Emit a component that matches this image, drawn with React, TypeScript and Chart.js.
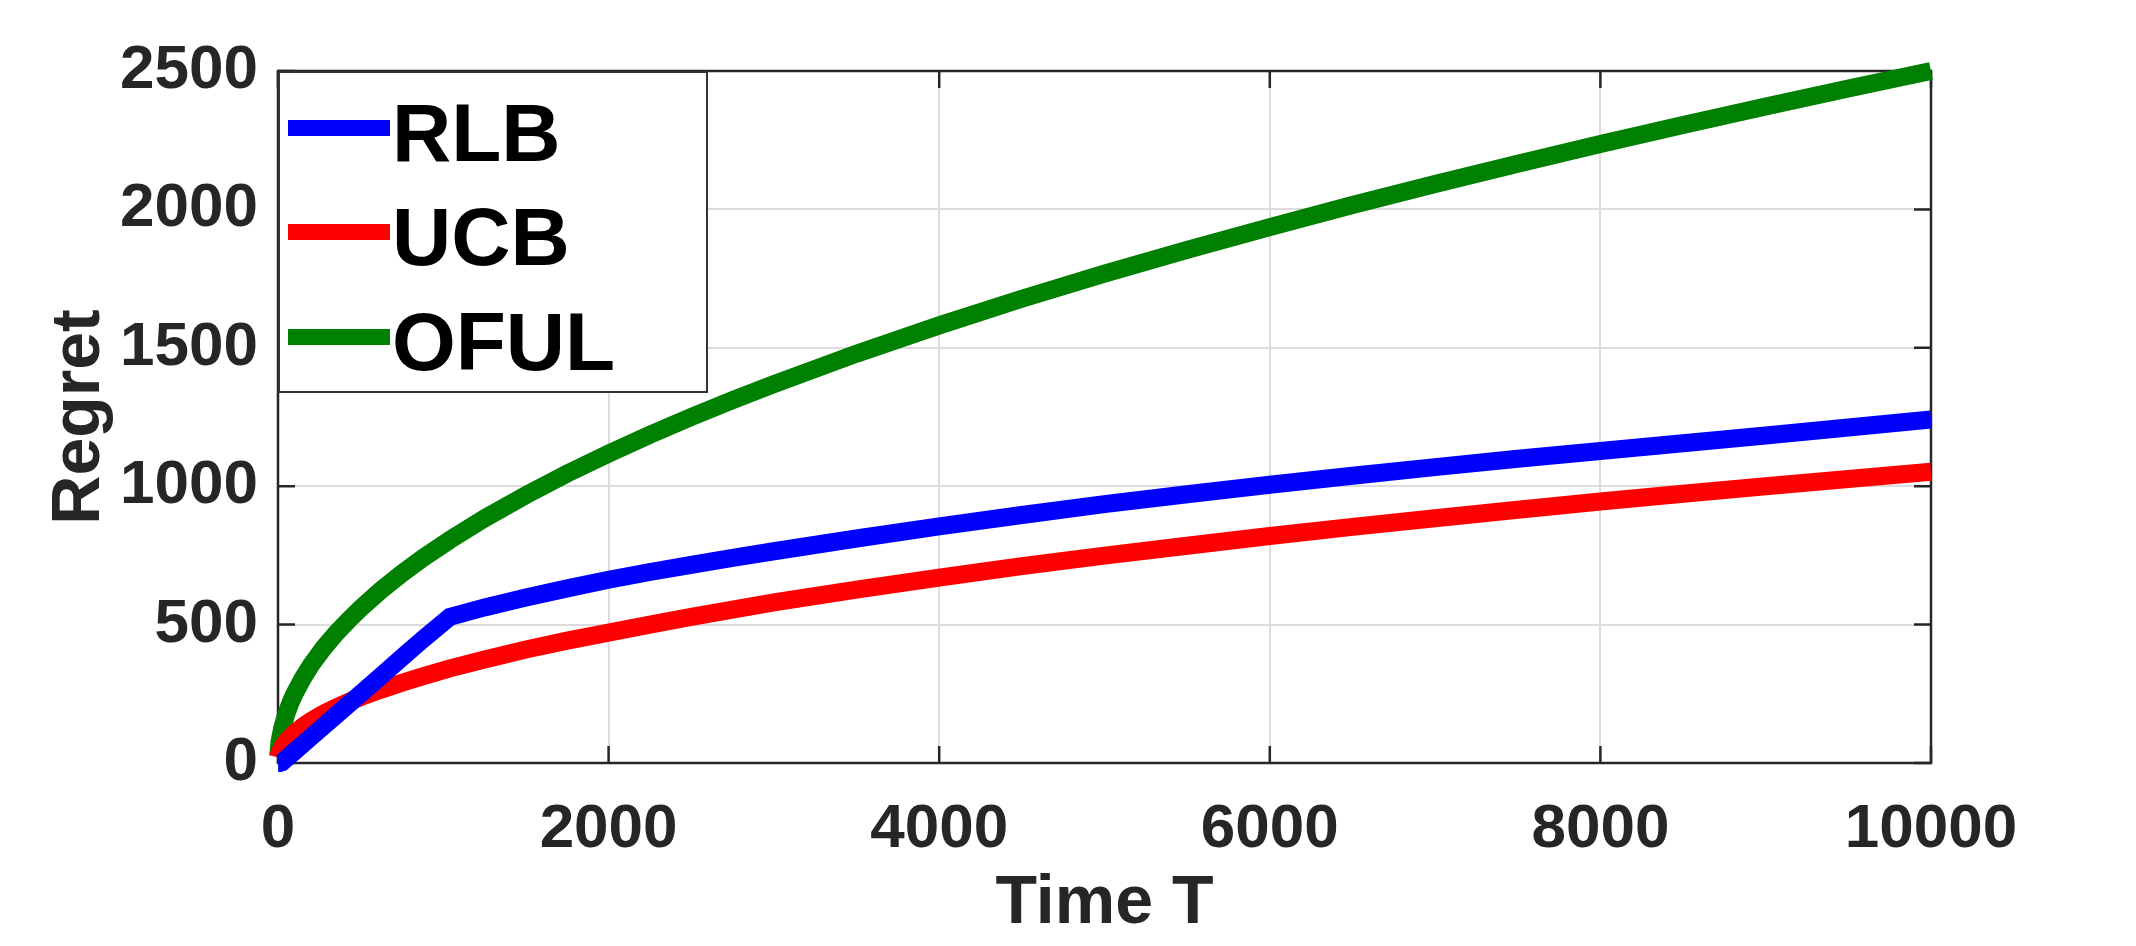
import React, { useEffect, useRef } from "react";
import { Chart, registerables } from "chart.js";

Chart.register(...registerables);

// ---- data ----
const timeSteps = [1, 10, 25, 50, 75, 100, 150, 200, 275, 350, 425, 500, 625, 750, 875, 1040, 1250, 1500, 1750, 2000, 2250, 2500, 2750, 3000, 3500, 4000, 4500, 5000, 5500, 6000, 6500, 7000, 7500, 8000, 8500, 9000, 9500, 10000];
const rlbRegret = [0, 0, 3, 16, 29, 42, 68, 94, 133, 172, 211, 250, 315, 381, 446, 528, 562, 598, 631, 662, 690, 716, 741, 765, 811, 855, 896, 935, 971, 1005, 1038, 1069, 1099, 1127, 1155, 1183, 1212, 1241];
const ucbRegret = [20, 38, 55, 78, 93, 108, 132, 152, 178, 200, 220, 238, 265, 290, 313, 342, 374, 410, 442, 471, 500, 528, 554, 580, 626, 670, 711, 749, 785, 820, 853, 884, 915, 945, 973, 1000, 1026, 1052];
const ofulRegret = [25, 79, 125, 177, 217, 250, 306, 354, 415, 468, 515, 559, 625, 685, 740, 806, 884, 968, 1046, 1118, 1186, 1250, 1311, 1369, 1479, 1581, 1677, 1768, 1854, 1936, 2016, 2092, 2165, 2236, 2305, 2372, 2437, 2500];

const seriesLabels = ["RLB", "UCB", "OFUL"];
const seriesColors = ["#0000ff", "#ff0000", "#008000"];
const xTicks = [0, 2000, 4000, 6000, 8000, 10000];
const yTicks = [0, 500, 1000, 1500, 2000, 2500];
const xTitle = "Time T";
const yTitle = "Regret";

const FONT = "'Liberation Sans', Arial, Helvetica, sans-serif";
const AXIS_COLOR = "#262626";

const framePlugin = {
  id: "matlabFrame",
  beforeDatasetsDraw(chart: any) {
    const { ctx, chartArea: a, scales } = chart;
    ctx.save();
    ctx.strokeStyle = AXIS_COLOR;
    ctx.lineWidth = 2.5;
    const L = 17;
    ctx.beginPath();
    for (const v of xTicks) {
      const px = scales.x.getPixelForValue(v);
      ctx.moveTo(px, a.bottom);
      ctx.lineTo(px, a.bottom - L);
      ctx.moveTo(px, a.top);
      ctx.lineTo(px, a.top + L);
    }
    for (const v of yTicks) {
      const py = scales.y.getPixelForValue(v);
      ctx.moveTo(a.left, py);
      ctx.lineTo(a.left + L, py);
      ctx.moveTo(a.right, py);
      ctx.lineTo(a.right - L, py);
    }
    ctx.stroke();
    ctx.strokeRect(a.left, a.top, a.right - a.left, a.bottom - a.top);
    ctx.restore();
  },
  afterDatasetsDraw(chart: any) {
    const { ctx, chartArea: a } = chart;
    const bx = a.left + 1;
    const by = a.top + 1;
    const bw = 428;
    const bh = 320;
    ctx.save();
    ctx.fillStyle = "#ffffff";
    ctx.fillRect(bx, by, bw, bh);
    ctx.strokeStyle = "#333333";
    ctx.lineWidth = 2;
    ctx.strokeRect(bx, by, bw, bh);
    const rows = [56, 160, 265];
    chart.data.datasets.forEach((ds: any, i: number) => {
      const y = by + rows[i];
      ctx.strokeStyle = ds.borderColor;
      ctx.lineWidth = 16;
      ctx.lineCap = "butt";
      ctx.beginPath();
      ctx.moveTo(bx + 9, y);
      ctx.lineTo(bx + 111, y);
      ctx.stroke();
      ctx.fillStyle = "#000000";
      ctx.font = `bold 82px ${FONT}`;
      ctx.textAlign = "left";
      ctx.textBaseline = "alphabetic";
      ctx.fillText(ds.label, bx + 113, y + 33);
    });
    ctx.restore();
  },
};

export default function App() {
  const canvasRef = useRef<HTMLCanvasElement | null>(null);

  useEffect(() => {
    document.body.style.margin = "0";
    const canvas = canvasRef.current;
    if (!canvas) return;
    const seriesValues = [rlbRegret, ucbRegret, ofulRegret];
    const chart = new Chart(canvas, {
      type: "line",
      data: {
        datasets: seriesValues.map((vals, i) => ({
          label: seriesLabels[i],
          data: timeSteps.map((t, j) => ({ x: t, y: vals[j] })),
          borderColor: seriesColors[i],
          backgroundColor: seriesColors[i],
          borderWidth: 18,
          pointRadius: 0,
          tension: 0,
          fill: false,
          clip: false as any,
          borderCapStyle: "butt",
          borderJoinStyle: "miter",
        })),
      },
      options: {
        responsive: false,
        animation: false,
        devicePixelRatio: 1,
        layout: { padding: { left: 0, top: 71, right: 205, bottom: 0 } },
        plugins: {
          legend: { display: false },
          tooltip: { enabled: false },
        },
        scales: {
          x: {
            type: "linear",
            min: 0,
            max: 10000,
            afterFit: (s: any) => {
              s.height = 183;
            },
            afterBuildTicks: (s: any) => {
              s.ticks = xTicks.map((v) => ({ value: v }));
            },
            ticks: {
              font: { family: FONT, size: 62, weight: "bold" },
              color: AXIS_COLOR,
              padding: 30,
              maxRotation: 0,
              autoSkip: false,
              callback: (v: any) => String(v),
            },
            grid: { color: "#dcdcdc", lineWidth: 2, drawTicks: false },
            border: { display: false },
            title: {
              display: true,
              text: xTitle,
              font: { family: FONT, size: 68, weight: "bold" },
              color: AXIS_COLOR,
              padding: { top: 0, bottom: 1 },
            },
          },
          y: {
            type: "linear",
            min: 0,
            max: 2500,
            afterFit: (s: any) => {
              s.width = 278;
            },
            afterBuildTicks: (s: any) => {
              s.ticks = yTicks.map((v) => ({ value: v }));
            },
            ticks: {
              font: { family: FONT, size: 62, weight: "bold" },
              color: AXIS_COLOR,
              padding: 20,
              autoSkip: false,
              callback: (v: any) => String(v),
            },
            grid: { color: "#dcdcdc", lineWidth: 2, drawTicks: false },
            border: { display: false },
            title: {
              display: true,
              text: yTitle,
              font: { family: FONT, size: 68, weight: "bold" },
              color: AXIS_COLOR,
              padding: { top: 39, bottom: 0 },
            },
          },
        },
      },
      plugins: [framePlugin],
    });
    return () => chart.destroy();
  }, []);

  return (
    <div style={{ position: "absolute", left: 0, top: 0, width: 2136, height: 946, background: "#ffffff" }}>
      <canvas ref={canvasRef} width={2136} height={946} style={{ display: "block" }} />
    </div>
  );
}
